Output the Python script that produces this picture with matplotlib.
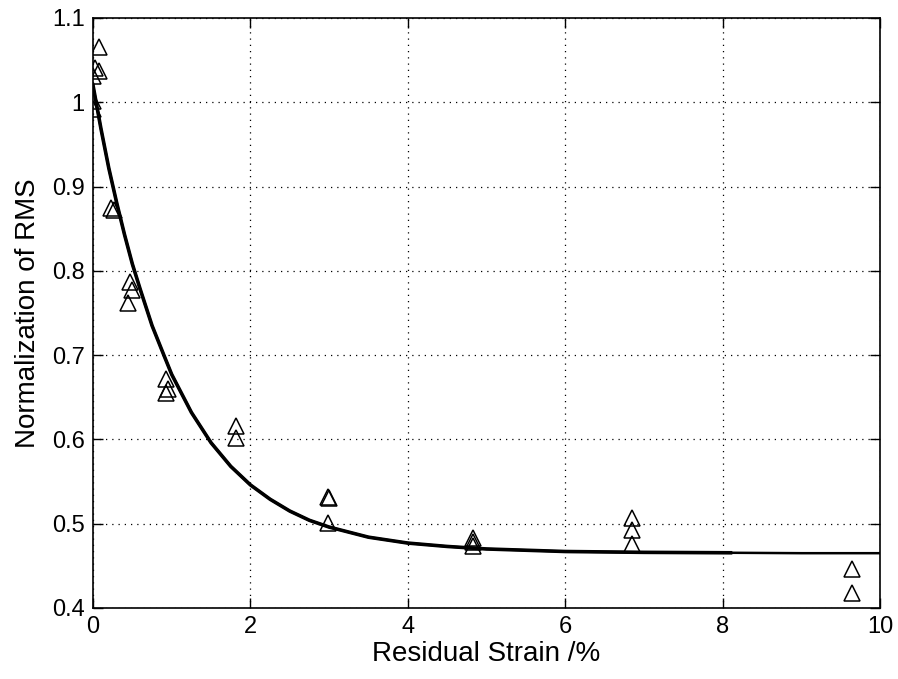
import matplotlib

matplotlib.use('Agg')
import matplotlib.pyplot as plt

plt.rcParams['font.family'] = ['Liberation Sans', 'DejaVu Sans']

# measured points (residual strain %, normalized RMS)
strain = [0.07, 0.03, 0.07, 0.0, 0.0, 0.0,
          0.23, 0.27,
          0.47, 0.50, 0.45,
          0.93, 0.95, 0.93,
          1.82, 1.82,
          2.98, 3.00, 2.98,
          4.83, 4.83, 4.83,
          6.85, 6.85, 6.85,
          9.65, 9.65]
rms = [1.066, 1.041, 1.037, 1.031, 1.002, 0.992,
       0.874, 0.872,
       0.787, 0.777, 0.762,
       0.672, 0.660, 0.655,
       0.616, 0.602,
       0.532, 0.530, 0.501,
       0.483, 0.478, 0.473,
       0.507, 0.492, 0.476,
       0.446, 0.418]

# fitted curve
fit_x = [0.0, 0.1, 0.2, 0.3, 0.4, 0.5, 0.6, 0.75, 0.9, 1.0, 1.25, 1.5, 1.75,
         2.0, 2.25, 2.5, 2.75, 3.0, 3.5, 4.0, 4.5, 5.0, 6.0, 7.0, 8.1, 9.0, 10.0]
fit_y = [1.020, 0.969, 0.922, 0.881, 0.843, 0.808, 0.778, 0.735, 0.700, 0.677,
         0.632, 0.596, 0.568, 0.546, 0.529, 0.515, 0.504, 0.496, 0.484, 0.477,
         0.473, 0.470, 0.467, 0.466, 0.4655, 0.465, 0.465]

fig = plt.figure(figsize=(8.98, 6.79), dpi=100)
ax = fig.add_axes([0.1036, 0.1046, 0.8764, 0.8689])

ax.plot(strain, rms, linestyle='none', marker='^', markersize=11,
        markerfacecolor='none', markeredgecolor='black', markeredgewidth=1.1)
ax.plot(fit_x, fit_y, color='black', lw=1.8)
# second, overlapping fit that stops near 8.1 (makes the line look heavier)
ax.plot(fit_x[:25], fit_y[:25], color='black', lw=2.6)

ax.set_xlim(0, 10)
ax.set_ylim(0.4, 1.1)
ax.set_xticks([0, 2, 4, 6, 8, 10])
ax.set_yticks([0.4, 0.5, 0.6, 0.7, 0.8, 0.9, 1.0, 1.1])
ax.set_yticklabels(['0.4', '0.5', '0.6', '0.7', '0.8', '0.9', '1', '1.1'])
ax.grid(True, color='black', linestyle=(0, (1, 4)), linewidth=0.9)
ax.tick_params(direction='in', length=7, width=1, top=True, right=True,
               labelsize=17, pad=6)
for s in ax.spines.values():
    s.set_linewidth(1.2)

ax.set_xlabel('Residual Strain /%', fontsize=20, labelpad=2)
ax.set_ylabel('Normalization of RMS', fontsize=20, labelpad=8)

fig.savefig('out.png', dpi=100)
